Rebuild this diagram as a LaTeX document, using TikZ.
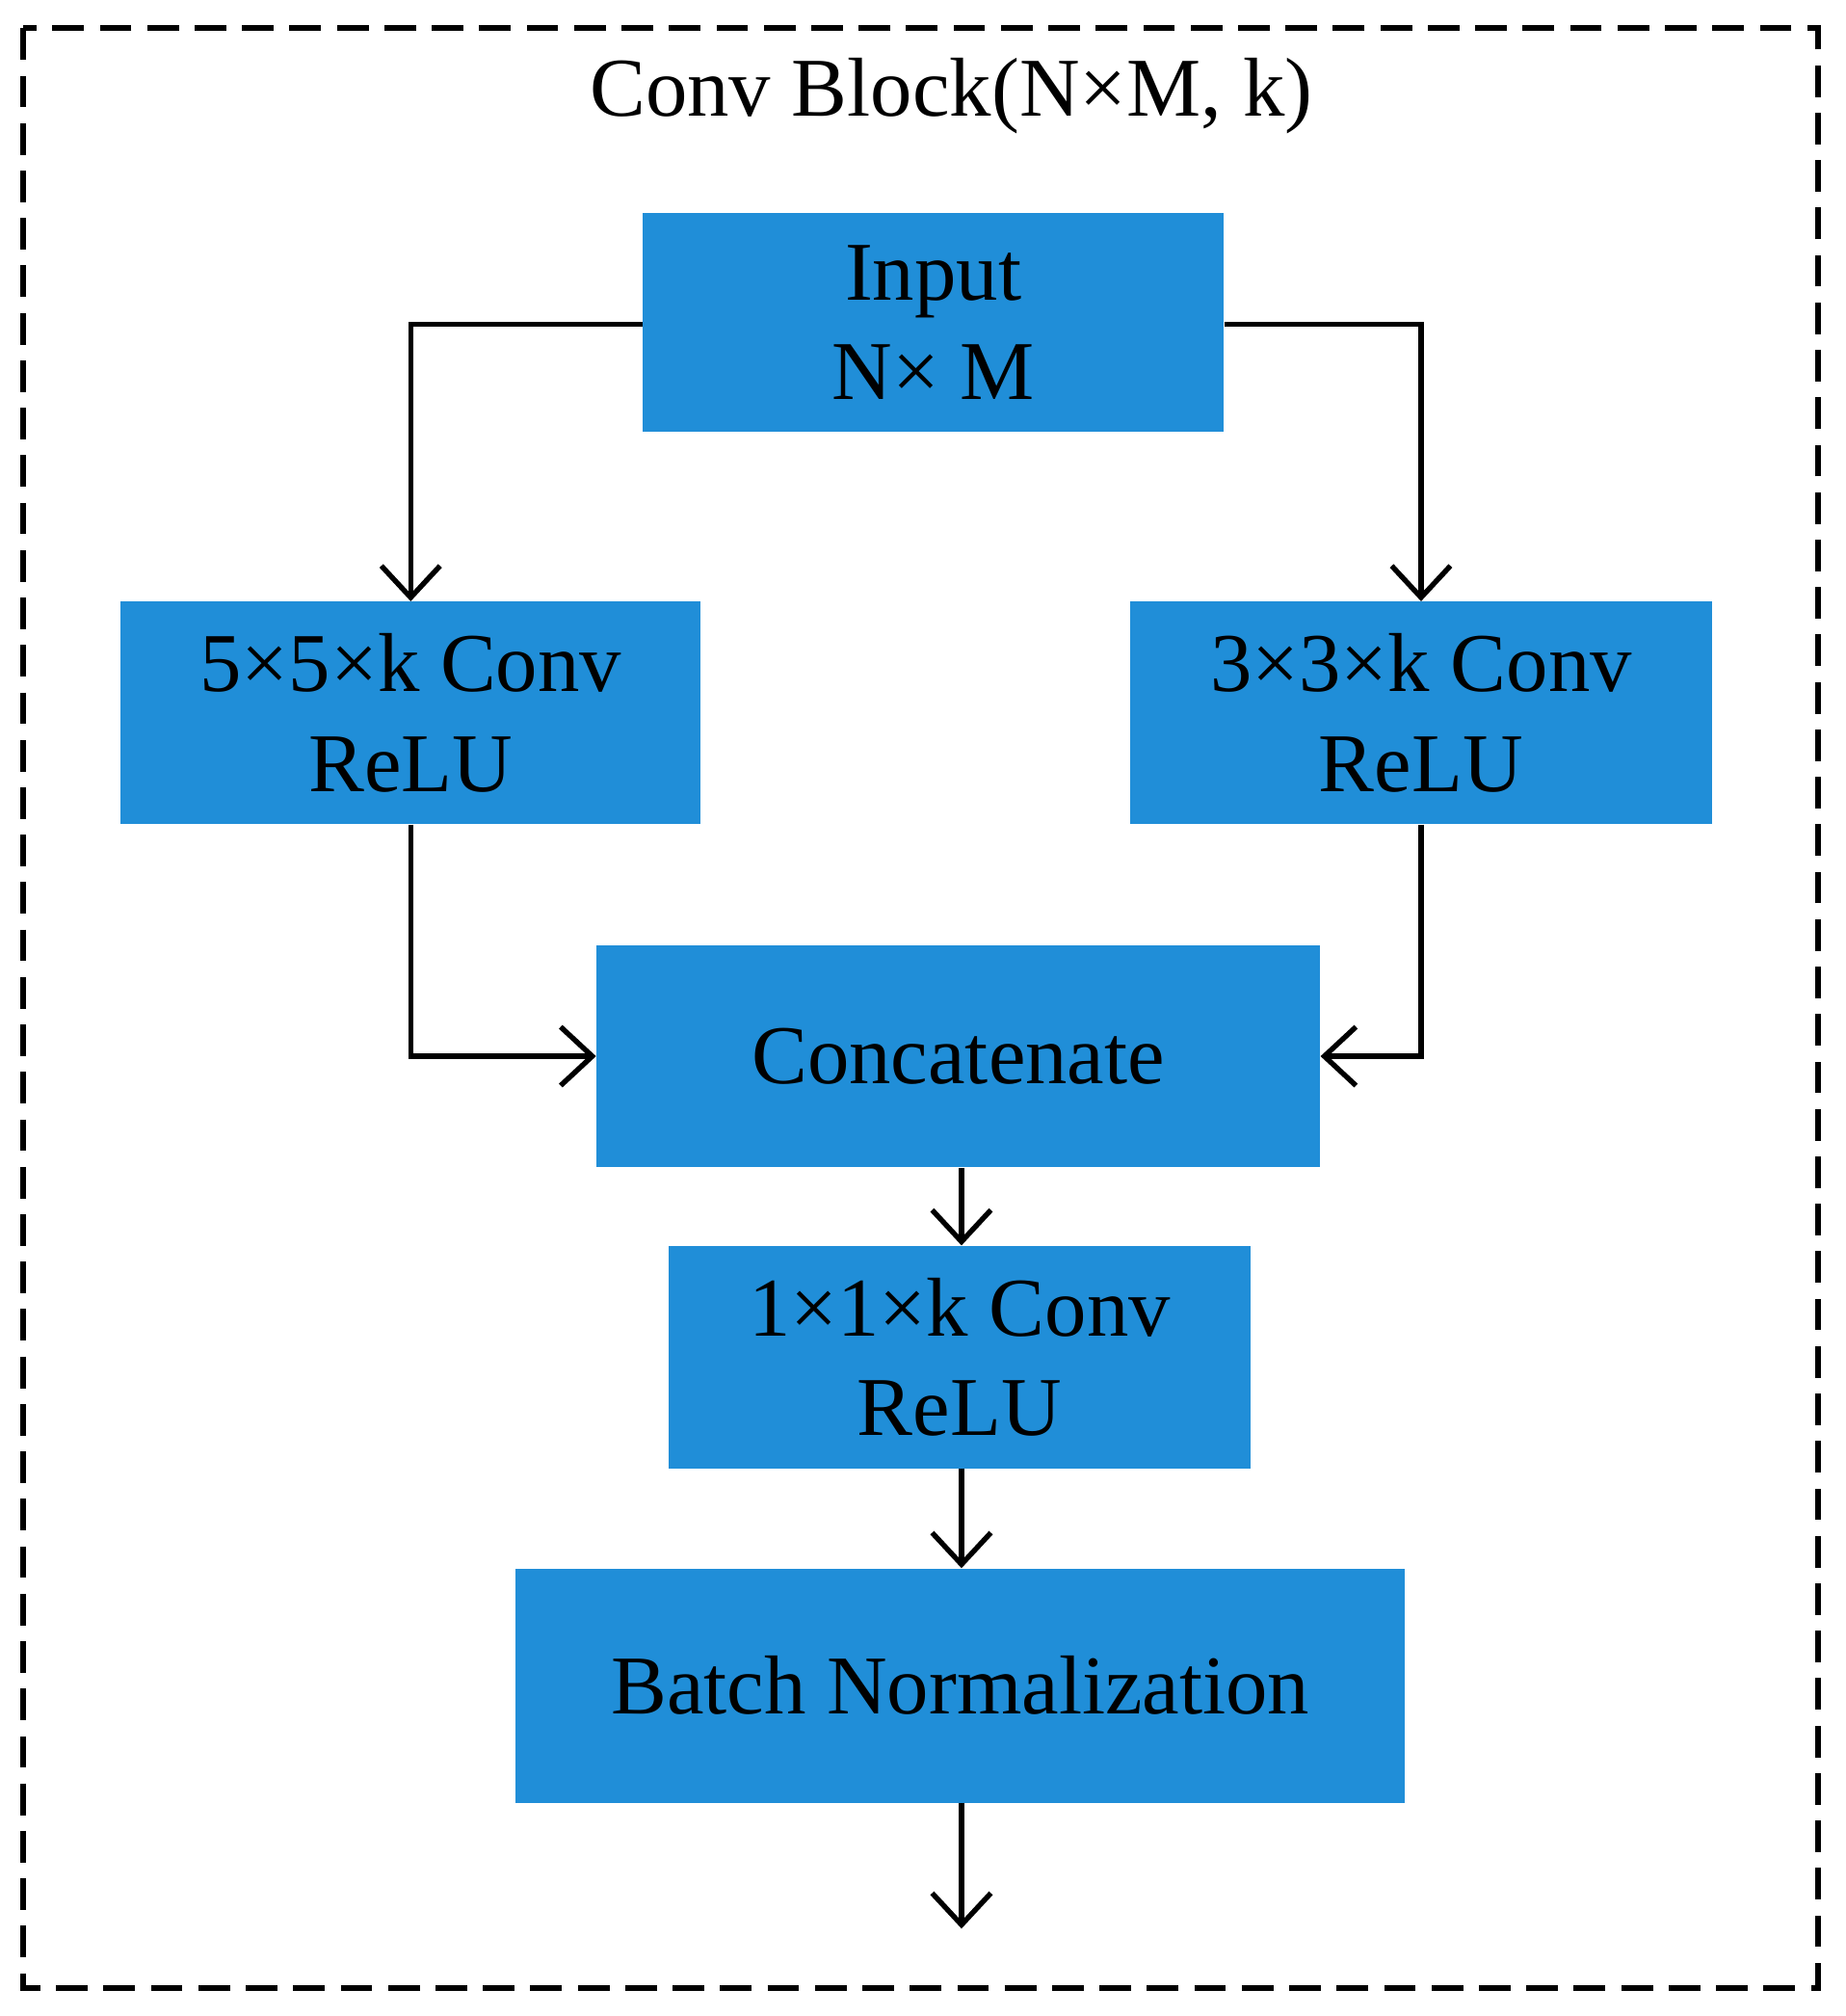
\documentclass[tikz,border=0pt]{standalone}
\usepackage{fontspec}
\setmainfont{Liberation Serif}
\usetikzlibrary{arrows.meta}
\begin{document}
\begin{tikzpicture}[x=0.02cm,y=-0.02cm,
  box/.style={fill=blue1,draw=none,inner sep=0pt,font=\fontsize{37}{44}\selectfont,align=center},
  conn/.style={line width=2.3pt,-{Straight Barb[length=14pt,width=26pt,line width=2.3pt]}}]
\definecolor{blue1}{HTML}{208ED8}
\useasboundingbox (0,0) rectangle (1436,1568);
\draw[line width=2.6pt,dash pattern=on 14pt off 7pt] (18,22) rectangle (1414,1546);
\node[font=\fontsize{37}{44}\selectfont] (title) at (740,75) {Conv Block(N×M, k)};
\node[box,minimum width=452\pgflinewidth/\pgflinewidth*0.02cm,minimum height=3.4cm] (in) at (726,251) {Input\\N× M};
\node[box,minimum width=9.02cm,minimum height=3.46cm] (a) at (319.5,554.5) {5×5×k Conv\\ReLU};
\node[box,minimum width=9.06cm,minimum height=3.46cm] (b) at (1105.5,554.5) {3×3×k Conv\\ReLU};
\node[box,minimum width=11.26cm,minimum height=3.46cm] (c) at (745.5,821.5) {Concatenate};
\node[box,minimum width=9.06cm,minimum height=3.46cm] (d) at (746.5,1055.5) {1×1×k Conv\\ReLU};
\node[box,minimum width=13.84cm,minimum height=3.64cm] (e) at (747,1311) {Batch Normalization};
\coordinate (out) at (748,1500);
\draw[conn] (in.west|-0,252) -| (a.north);
\draw[conn] (in.east|-0,252) -| (b.north);
\draw[conn] (a.south) |- (c.west);
\draw[conn] (b.south) |- (c.east);
\draw[conn] (c.south-|748,0) -- (d.north-|748,0);
\draw[conn] (d.south-|748,0) -- (e.north-|748,0);
\draw[conn] (e.south-|748,0) -- (out);
\end{tikzpicture}
\end{document}
